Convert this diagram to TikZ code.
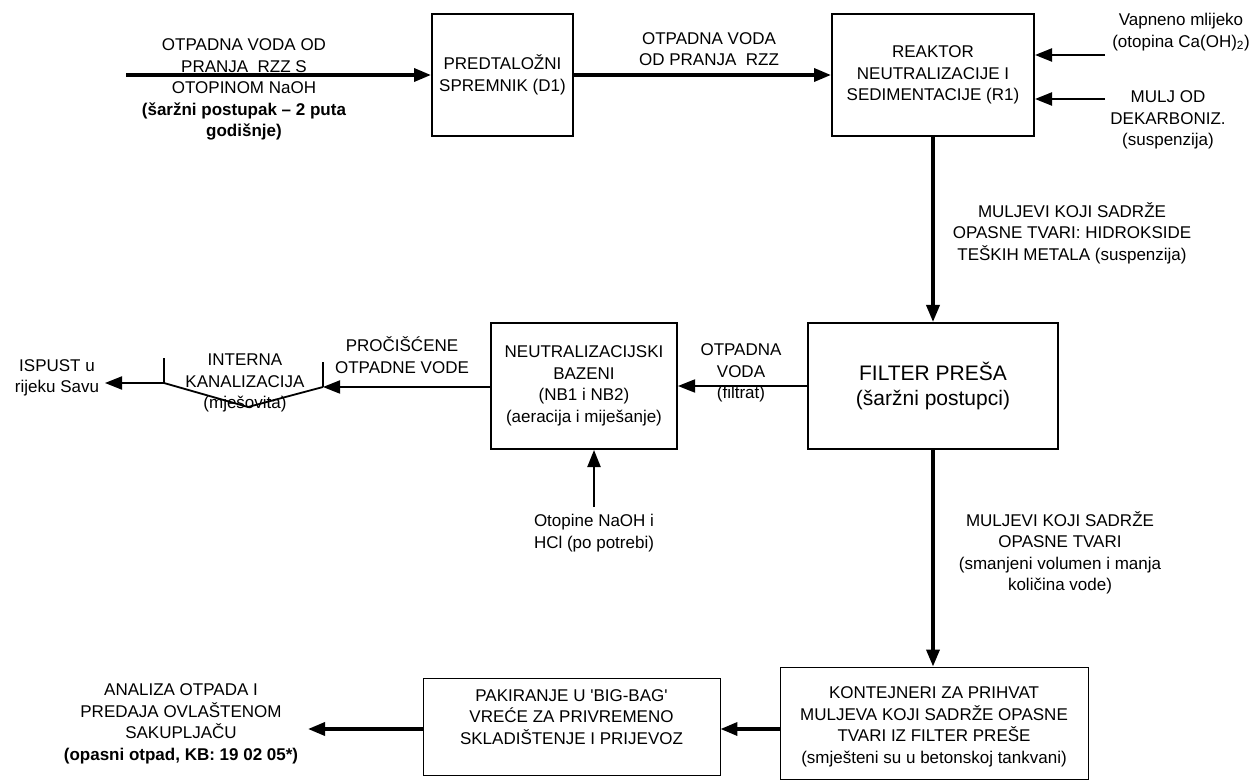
\documentclass[tikz,border=0pt]{standalone}
\usepackage{fontspec}
\setmainfont{Liberation Sans}
\usepackage{tikz}
\usetikzlibrary{arrows.meta,positioning,calc}
\definecolor{ink}{HTML}{000000}
\tikzset{
  procbox/.style={draw=ink,line width=2pt,align=center,inner sep=2pt,
                  font=\fontsize{17}{21.5}\selectfont},
  thinbox/.style={draw=ink,line width=0.9pt,inner sep=0pt},
  lbl/.style={align=center,inner sep=0pt,font=\fontsize{17}{21.5}\selectfont},
  mainarr/.style={-{Triangle[length=17pt,width=13pt]},line width=3.5pt,color=ink},
  sidearr/.style={-{Triangle[length=17pt,width=13pt]},line width=2.2pt,color=ink}
}

\begin{document}
\begin{tikzpicture}[x=1pt,y=-1pt]
  \useasboundingbox (0,0) rectangle (1256,783);
  % boxes
  \node[procbox,minimum width=141pt,minimum height=122pt] (d1) at (502.5,75)
    {PREDTALOŽNI\\SPREMNIK (D1)};
  \node[procbox,minimum width=202pt,minimum height=122pt] (r1) at (933,75)
    {REAKTOR\\NEUTRALIZACIJE I\\SEDIMENTACIJE (R1)};
  \node[procbox,minimum width=250pt,minimum height=126pt,
        font=\fontsize{21}{25}\selectfont] (fp) at (933,386)
    {FILTER PREŠA\\(šaržni postupci)};
  \node[procbox,minimum width=186pt,minimum height=126pt] (nb) at (584,386)
    {NEUTRALIZACIJSKI\\BAZENI\\(NB1 i NB2)\\(aeracija i miješanje)};
  \node[thinbox,minimum width=308pt,minimum height=112pt] (kontbox) at (934,723) {};
  \node[lbl] (konttxt) at (934,727)
    {KONTEJNERI ZA PRIHVAT\\MULJEVA KOJI SADRŽE OPASNE\\TVARI IZ FILTER PREŠE\\(smješteni su u betonskoj tankvani)};
  \node[thinbox,minimum width=297pt,minimum height=97pt] (pakbox) at (571.5,726.5) {};
  \node[lbl] (paktxt) at (571.5,717)
    {PAKIRANJE U \textquotesingle BIG-BAG\textquotesingle\\VREĆE ZA PRIVREMENO\\SKLADIŠTENJE I PRIJEVOZ};

  % labels
  \node[lbl] (inlbl) at (244,89.5)
    {OTPADNA VODA OD\\PRANJA\ \ RZZ S\\OTOPINOM NaOH\\\textbf{(šaržni postupak – 2 puta}\\\textbf{godišnje)}};
  \node[lbl] (midlbl) at (709,49) {OTPADNA VODA\\OD PRANJA\ \ RZZ};
  \node[lbl] (vaplbl) at (1181,32) {Vapneno mlijeko\\(otopina Ca(OH)\textsubscript{2})};
  \node[lbl] (muljlbl) at (1168,120) {MULJ OD\\DEKARBONIZ.\\(suspenzija)};
  \node[lbl] (mlbl1) at (1072,233)
    {MULJEVI KOJI SADRŽE\\OPASNE TVARI: HIDROKSIDE\\TEŠKIH METALA (suspenzija)};
  \node[lbl] (filtlbl) at (741,373) {OTPADNA\\VODA\\(filtrat)};
  \node[lbl] (otoplbl) at (594,533) {Otopine NaOH i\\HCl (po potrebi)};
  \node[lbl] (prolbl) at (402,355) {PROČIŠĆENE\\OTPADNE VODE};
  \node[lbl] (kanlbl) at (245,383) {INTERNA\\KANALIZACIJA\\(mješovita)};
  \node[lbl] (isplbl) at (57,378) {ISPUST u\\rijeku Savu};
  \node[lbl] (mlbl2) at (1060,553)
    {MULJEVI KOJI SADRŽE\\OPASNE TVARI\\(smanjeni volumen i manja\\količina vode)};
  \node[lbl] (anlbl) at (181,724)
    {ANALIZA OTPADA I\\PREDAJA OVLAŠTENOM\\SAKUPLJAČU\\\textbf{(opasni otpad, KB: 19 02 05*)}};

  % free ends
  \coordinate (inS) at (126,75);
  \coordinate (vapS) at (1105,55);
  \coordinate (muljS) at (1105,99);
  \coordinate (otopS) at (594,507);
  \coordinate (kanL) at (164,383);
  \coordinate (kanB) at (248,407);
  \coordinate (kanR) at (323,387);
  \coordinate (ispE) at (105,383);
  \coordinate (anE) at (308,729);

  % connectors
  \draw[mainarr] (inS) -- (d1.west);
  \draw[mainarr] (d1.east) -- (r1.west);
  \draw[sidearr] (vapS) -- (vapS -| r1.east);
  \draw[sidearr] (muljS) -- (muljS -| r1.east);
  \draw[mainarr] (r1.south) -- (fp.north);
  \draw[sidearr,line width=1.8pt] (fp.west) -- (nb.east);
  \draw[sidearr] (otopS) -- (otopS |- nb.south);
  \draw[sidearr,line width=1.8pt] (nb.west |- kanR) -- (kanR);
  \draw[line width=1.8pt] (kanL) -- ++(0,-25) (kanR) -- ++(0,-25);
  \draw[line width=1.8pt] (kanL) -- (kanB) -- (kanR);
  \draw[sidearr,line width=1.8pt] (kanL) -- (ispE);
  \draw[mainarr] (fp.south) -- (fp.south |- kontbox.north);
  \draw[mainarr] (kontbox.west |- anE) -- (pakbox.east |- anE);
  \draw[mainarr] (pakbox.west |- anE) -- (anE);
\end{tikzpicture}
\end{document}
